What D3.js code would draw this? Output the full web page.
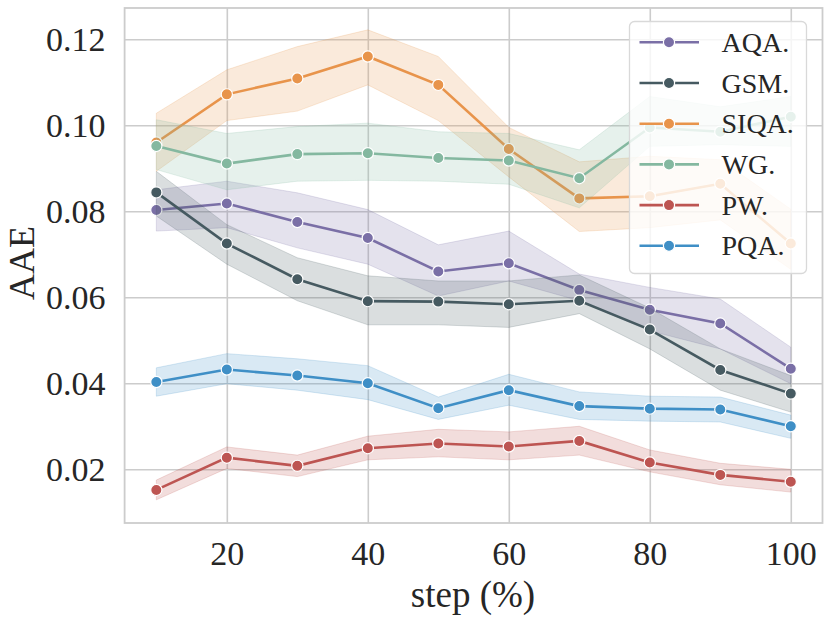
<!DOCTYPE html>
<html>
<head>
<meta charset="utf-8">
<script src="https://cdn.jsdelivr.net/npm/d3@7"></script>
<style>
  html, body { margin: 0; padding: 0; background: #fff; }
  svg { display: block; }
  text { font-family: "Liberation Serif", "Times New Roman", serif; fill: #262626; }
</style>
</head>
<body>
<svg id="chart" width="830" height="623"></svg>
<script>
const steps = [10, 20, 30, 40, 50, 60, 70, 80, 90, 100];
const seriesNames = ["AQA.", "GSM.", "SIQA.", "WG.", "PW.", "PQA."];
const seriesColors = ["#7a6fa6", "#465a61", "#e8944b", "#84b8a0", "#bd5552", "#3f8fc6"];

const aqa   = [0.0803, 0.0818, 0.0775, 0.0738, 0.0660, 0.0679, 0.0617, 0.0571, 0.0539, 0.0434];
const aqaLo = [0.0754, 0.0762, 0.0715, 0.0677, 0.0603, 0.0638, 0.0592, 0.0522, 0.0480, 0.0399];
const aqaHi = [0.0850, 0.0870, 0.0843, 0.0804, 0.0722, 0.0754, 0.0654, 0.0623, 0.0596, 0.0484];

const gsm   = [0.0844, 0.0725, 0.0642, 0.0591, 0.0590, 0.0584, 0.0592, 0.0525, 0.0431, 0.0376];
const gsmLo = [0.0789, 0.0677, 0.0592, 0.0536, 0.0536, 0.0530, 0.0562, 0.0480, 0.0384, 0.0333];
const gsmHi = [0.0893, 0.0769, 0.0692, 0.0650, 0.0638, 0.0638, 0.0652, 0.0575, 0.0480, 0.0418];

const siqa   = [0.0960, 0.1072, 0.1109, 0.1160, 0.1094, 0.0945, 0.0830, 0.0835, 0.0864, 0.0725];
const siqaLo = [0.0893, 0.1011, 0.1033, 0.1094, 0.1011, 0.0880, 0.0753, 0.0762, 0.0780, 0.0665];
const siqaHi = [0.1028, 0.1129, 0.1183, 0.1222, 0.1160, 0.0995, 0.0915, 0.0928, 0.0920, 0.0805];

const wg   = [0.0952, 0.0911, 0.0933, 0.0935, 0.0924, 0.0918, 0.0877, 0.0995, 0.0985, 0.1020];
const wgLo = [0.0897, 0.0850, 0.0870, 0.0872, 0.0870, 0.0863, 0.0808, 0.0951, 0.0955, 0.0951];
const wgHi = [0.1013, 0.0981, 0.0997, 0.1005, 0.0985, 0.0981, 0.0943, 0.1067, 0.1043, 0.1067];

const pw   = [0.0152, 0.0227, 0.0208, 0.0249, 0.0260, 0.0253, 0.0266, 0.0216, 0.0187, 0.0171];
const pwLo = [0.0129, 0.0202, 0.0183, 0.0222, 0.0229, 0.0222, 0.0233, 0.0194, 0.0164, 0.0147];
const pwHi = [0.0175, 0.0252, 0.0233, 0.0277, 0.0293, 0.0287, 0.0300, 0.0245, 0.0214, 0.0200];

const pqa   = [0.0403, 0.0432, 0.0418, 0.0400, 0.0342, 0.0384, 0.0347, 0.0341, 0.0339, 0.0300];
const pqaLo = [0.0370, 0.0399, 0.0384, 0.0362, 0.0316, 0.0349, 0.0316, 0.0312, 0.0310, 0.0272];
const pqaHi = [0.0436, 0.0469, 0.0457, 0.0441, 0.0368, 0.0421, 0.0380, 0.0370, 0.0368, 0.0326];

const xTicks = [20, 40, 60, 80, 100];
const yTicks = [0.02, 0.04, 0.06, 0.08, 0.10, 0.12];
const xLabel = "step (%)";
const yLabel = "AAE";

const means = [aqa, gsm, siqa, wg, pw, pqa];
const lows  = [aqaLo, gsmLo, siqaLo, wgLo, pwLo, pqaLo];
const highs = [aqaHi, gsmHi, siqaHi, wgHi, pwHi, pqaHi];

const pLeft = 124.6, pRight = 822.5, pTop = 8, pBottom = 523;
const x = d3.scaleLinear().domain([5.5, 104.5]).range([pLeft, pRight]);
const y = d3.scaleLinear().domain([0.00751, 0.12728]).range([pBottom, pTop]);

const svg = d3.select("#chart");
const gridColor = "#cccccc";
const fontFam = '"Liberation Serif", "Times New Roman", serif';

// grid + ticks
const gx = svg.append("g").attr("transform", `translate(0,${pBottom})`)
  .call(d3.axisBottom(x).tickValues(xTicks).tickSize(-(pBottom - pTop)).tickFormat(d3.format("d")).tickPadding(18));
gx.select(".domain").remove();
gx.selectAll("line").attr("stroke", gridColor).attr("stroke-width", 1.6);
gx.selectAll("text").attr("font-size", 34).attr("fill", "#262626").attr("font-family", fontFam);

const gy = svg.append("g").attr("transform", `translate(${pLeft},0)`)
  .call(d3.axisLeft(y).tickValues(yTicks).tickSize(-(pRight - pLeft)).tickFormat(d3.format(".2f")).tickPadding(19));
gy.select(".domain").remove();
gy.selectAll("line").attr("stroke", gridColor).attr("stroke-width", 1.6);
gy.selectAll("text").attr("font-size", 34).attr("fill", "#262626").attr("dy", "0.34em").attr("font-family", fontFam);

// series
const area = d3.area().x((d, i) => x(steps[i])).y0(d => y(d[0])).y1(d => y(d[1]));
const line = d3.line().x((d, i) => x(steps[i])).y(d => y(d));

seriesNames.forEach((name, k) => {
  const c = seriesColors[k];
  const g = svg.append("g");
  g.append("path")
    .datum(steps.map((s, i) => [lows[k][i], highs[k][i]]))
    .attr("d", area).attr("fill", c).attr("fill-opacity", 0.2)
    .attr("stroke", c).attr("stroke-opacity", 0.2).attr("stroke-width", 1);
  g.append("path").datum(means[k]).attr("d", line)
    .attr("fill", "none").attr("stroke", c).attr("stroke-width", 2.6);
  g.selectAll("circle").data(means[k]).join("circle")
    .attr("cx", (d, i) => x(steps[i])).attr("cy", d => y(d)).attr("r", 5.6)
    .attr("fill", c).attr("stroke", "#fff").attr("stroke-width", 1.2);
});

// frame
svg.append("rect").attr("x", pLeft).attr("y", pTop).attr("width", pRight - pLeft).attr("height", pBottom - pTop)
  .attr("fill", "none").attr("stroke", gridColor).attr("stroke-width", 1.8);

// legend
const lg = svg.append("g");
lg.append("rect").attr("x", 629.5).attr("y", 21.5).attr("width", 177).attr("height", 252).attr("rx", 5)
  .attr("fill", "#fff").attr("fill-opacity", 0.8).attr("stroke", "#d9d9d9").attr("stroke-width", 1.3);
seriesNames.forEach((name, k) => {
  const cy = 42.3 + k * 40.7;
  lg.append("line").attr("x1", 639.5).attr("x2", 699).attr("y1", cy).attr("y2", cy)
    .attr("stroke", seriesColors[k]).attr("stroke-width", 2.6);
  lg.append("circle").attr("cx", 669).attr("cy", cy).attr("r", 5.6)
    .attr("fill", seriesColors[k]).attr("stroke", "#fff").attr("stroke-width", 1.2);
  lg.append("text").attr("x", 721.5).attr("y", cy).attr("dy", "0.34em").attr("font-size", 28).text(name);
});

// axis labels
svg.append("text").attr("x", 473).attr("y", 607).attr("text-anchor", "middle").attr("font-size", 37).text(xLabel);
svg.append("text").attr("transform", "translate(34,263) rotate(-90)").attr("text-anchor", "middle")
  .attr("font-size", 36).text(yLabel);
</script>
</body>
</html>
